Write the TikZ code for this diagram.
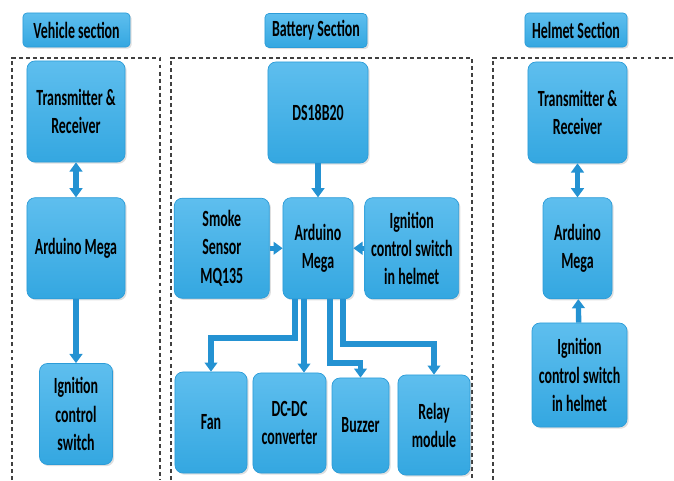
\documentclass[tikz,border=0pt]{standalone}
\usepackage{fontspec}
\setmainfont{Carlito}[FakeStretch=0.6]
\usepackage{tikz}
\usetikzlibrary{arrows.meta,positioning,shadows}
\definecolor{blockblue}{RGB}{54,174,234}
\definecolor{edgeblue}{RGB}{44,156,216}
\definecolor{arrowblue}{RGB}{36,146,210}

\begin{document}
\begin{tikzpicture}[x=0.025cm, y=-0.025cm,
    block/.style={draw=edgeblue, line width=0.5pt, rounded corners=0.2cm,
        top color=blockblue!80!white, middle color=blockblue, bottom color=blockblue!96!black,
        drop shadow={opacity=0.25, shadow xshift=1.2pt, shadow yshift=-1.2pt},
        align=center, inner sep=2pt, font=\fontsize{16.5}{20}\selectfont\bfseries},
    headbox/.style={block, rounded corners=0.1cm, minimum height=0.85cm},
    arr/.style={-{Triangle[length=6.5pt,width=9pt]}, line width=3.8pt, draw=arrowblue},
    darr/.style={arr, {Triangle[length=6.5pt,width=9pt]}-{Triangle[length=6.5pt,width=9pt]}},
    frame/.style={line width=1.3pt, dash pattern=on 2.8pt off 2.2pt, black!75}
]
\useasboundingbox (0,0) rectangle (674,480);

% section frames
\draw[frame] (12,480) -- (12,58) -- (160,58) -- (160,480);
\draw[frame] (171,480) -- (171,58) -- (472,58) -- (472,480);
\draw[frame] (493,480) -- (493,58) -- (674,58);

% titles
\node[headbox, minimum width=2.675cm] (vtitle) at (76.5,30) {Vehicle section};
\node[headbox, minimum width=2.55cm] (btitle) at (316,30.5) {Battery Section};
\node[headbox, minimum width=2.55cm] (htitle) at (576,30) {Helmet Section};

% vehicle section
\node[block, minimum width=2.45cm, minimum height=2.525cm] (vtx) at (76,111.5) {Transmitter \&\\Receiver};
\node[block, minimum width=2.45cm, minimum height=2.525cm, below=0.875cm of vtx] (vard) {Arduino Mega};
\node[block, minimum width=1.825cm, minimum height=2.525cm, below=1.6cm of vard] (vign) {Ignition\\control\\switch};

% battery section
\node[block, minimum width=2.5cm, minimum height=2.525cm] (ds) at (318,112.5) {DS18B20};
\node[block, minimum width=1.75cm, minimum height=2.525cm, below=0.85cm of ds] (bard) {Arduino\\Mega};
\node[block, minimum width=2.375cm, minimum height=2.5cm, left=0.325cm of bard] (smoke) {Smoke\\Sensor\\MQ135};
\node[block, minimum width=2.35cm, minimum height=2.525cm, right=0.275cm of bard] (bign) {Ignition\\control switch\\in helmet};
\node[block, minimum width=1.8cm, minimum height=2.525cm] (fan) at (211,422.5) {Fan};
\node[block, minimum width=1.825cm, minimum height=2.5cm] (dcdc) at (289.5,423) {DC-DC\\converter};
\node[block, minimum width=1.425cm, minimum height=2.375cm] (buzzer) at (360.5,425.5) {Buzzer};
\node[block, minimum width=1.8cm, minimum height=2.5cm] (relay) at (434,425) {Relay\\module};

% helmet section
\node[block, minimum width=2.475cm, minimum height=2.525cm] (htx) at (577.5,112.5) {Transmitter \&\\Receiver};
\node[block, minimum width=1.725cm, minimum height=2.525cm, below=0.85cm of htx] (hard) {Arduino\\Mega};
\node[block, minimum width=2.375cm, minimum height=2.6cm] (hign) at (579.5,375) {Ignition\\control switch\\in helmet};

% links
\draw[darr] (vtx) -- (vard);
\draw[arr] (vard) -- (vign);
\draw[arr] (ds) -- (bard);
\draw[arr] (smoke) -- (bard);
\draw[arr] (bign) -- (bard);
\draw[arr] ([xshift=-0.575cm]bard.south) -- ++(0,-0.975cm) -| (fan.north);
\draw[arr] ([xshift=-0.35cm]bard.south) -- ([xshift=-0.35cm]bard.south |- dcdc.north);
\draw[arr] ([xshift=0.3cm]bard.south) -- ++(0,-1.6cm) -| (buzzer.north);
\draw[arr] ([xshift=0.625cm]bard.south) -- ++(0,-1.125cm) -| (relay.north);
\draw[darr] (htx) -- (hard);
\draw[arr] (hign) -- (hard);
\end{tikzpicture}
\end{document}
